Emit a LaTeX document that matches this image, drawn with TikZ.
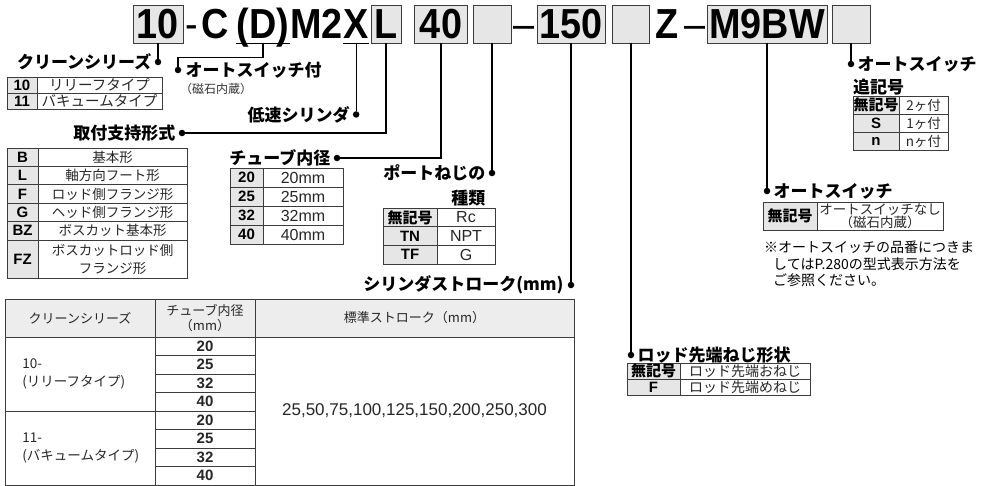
\documentclass[tikz,border=0pt]{standalone}
\usepackage{fontspec}
\setmainfont{Liberation Sans}
\newfontfamily\jp{Noto Sans CJK JP}
\newfontfamily\codefont[FakeStretch=0.9]{Liberation Sans}
\usetikzlibrary{positioning}
\definecolor{keygray}{RGB}{230,230,230}
\definecolor{rule}{RGB}{60,60,60}
\newcommand\mukigou{{\jp\bfseries 無記号}}
\tikzset{
  codebox/.style={draw=rule,line width=0.9pt,fill=keygray,inner xsep=0pt,inner ysep=2pt,
                  text height=31pt,text depth=3pt,font=\codefont\bfseries\fontsize{42}{42}\selectfont},
  codetxt/.style={codebox,draw=none,fill=none},
  headtxt/.style={inner sep=0pt,font=\jp\bfseries\fontsize{17}{20}\selectfont},
  subhead/.style={inner sep=0pt,text=black!80,font=\jp\fontsize{12}{15}\selectfont},
  tcell/.style={draw=rule,line width=0.8pt,inner sep=0pt,align=center,text=black!85,
                font=\jp\fontsize{14}{16}\selectfont},
  keycell/.style={tcell,fill=keygray,text=black,font=\bfseries\fontsize{15}{16}\selectfont},
  numcell/.style={tcell,font=\fontsize{16}{17}\selectfont},
  jdot/.style={circle,fill=black,inner sep=0pt,minimum size=6.5pt},
  wire/.style={line width=1.3pt},
}
\begin{document}
\begin{tikzpicture}[x=1pt,y=-1pt]
  \useasboundingbox (0,0) rectangle (981,485);
  \node[codebox,minimum width=50pt] (b10) at (158,24) {10};
  \node[codetxt] (hy1) at (192,24) {\mdseries-};
  \node[codetxt] (tC) at (215,24) {C};
  \node[codetxt] (tD) at (263,24) {(D)};
  \node[codetxt,right=0pt of tD] (tM) {M2};
  \node[codetxt,right=0pt of tM] (tX) {X};
  \node[codebox,minimum width=30pt] (bL) at (386,24) {L};
  \node[codebox,minimum width=53pt] (b40) at (441,24) {40};
  \node[codebox,minimum width=38pt] (bP) at (492,24) {};
  \node[codetxt] (hy2) at (524,24) {\mdseries–};
  \node[codebox,minimum width=68pt] (b150) at (571,24) {150};
  \node[codebox,minimum width=37pt] (bR) at (631,24) {};
  \node[codetxt] (tZ) at (667,24) {Z};
  \node[codetxt] (hy3) at (695,24) {\mdseries–};
  \node[codebox,minimum width=120pt] (bSW) at (767,24) {M9BW};
  \node[codebox,minimum width=38pt] (bN) at (851,24) {};
  \draw[wire] (tD.south west) -- (tD.south east);
  \draw[wire] (tX.south west) -- (tX.south east);

  \node[jdot] (d10) at (158,62) {};
  \node[headtxt,left=3pt of d10] (hSeries) {クリーンシリーズ};
  \draw[wire] (b10) -- (d10);
  \node[jdot] (dD) at (178,70) {};
  \node[headtxt,right=4pt of dD] (hSw) {オートスイッチ付};
  \node[subhead,anchor=west] (hSwMag) at (180,89) {（磁石内蔵）};
  \draw[wire] (tD.south) -- ++(0,14) -| (dD);
  \node[jdot] (dX) at ([yshift=-71pt]tX.south) {};
  \node[headtxt,left=3pt of dX] (hSlow) {低速シリンダ};
  \draw[wire] (tX.south) -- (dX);
  \node[jdot] (dL) at (182,133) {};
  \node[headtxt,left=3pt of dL] (hMount) {取付支持形式};
  \draw[wire] (bL) |- (dL);
  \node[jdot] (d40) at (337,158) {};
  \node[headtxt,left=3pt of d40] (hBore) {チューブ内径};
  \draw[wire] (b40) |- (d40);
  \node[jdot] (dP) at (492,173) {};
  \node[headtxt,left=3pt of dP] (hPort) {ポートねじの};
  \node[headtxt,anchor=east] (hPort2) at ([yshift=-25pt]hPort.east) {種類};
  \draw[wire] (bP) -- (dP);
  \node[jdot] (d150) at (571,285) {};
  \node[headtxt,left=4pt of d150] (hStroke) {シリンダストローク(mm)};
  \draw[wire] (b150) -- (d150);
  \node[jdot] (dR) at (631,355) {};
  \node[headtxt,right=3pt of dR] (hRod) {ロッド先端ねじ形状};
  \draw[wire] (bR) -- (dR);
  \node[jdot] (dSW) at (767,191) {};
  \node[headtxt,right=3pt of dSW] (hAuto) {オートスイッチ};
  \draw[wire] (bSW) -- (dSW);
  \node[jdot] (dN) at (851,64) {};
  \node[headtxt,right=3pt of dN] (hAdd) {オートスイッチ};
  \node[headtxt,anchor=west] (hAdd2) at (853,87) {追記号};
  \draw[wire] (bN) -- (dN);

  \foreach \k/\v [count=\i] in {10/リリーフタイプ,11/バキュームタイプ}{
    \node[keycell,minimum width=30pt,minimum height=16pt] (sk\i) at (22,{69+16*\i}) {\k};
    \node[tcell,minimum width=125pt,minimum height=16pt,font=\jp\fontsize{14.5}{16}\selectfont] (sv\i)
      at (99.5,{69+16*\i}) {\v};
  }
  \foreach \k/\v [count=\i] in {B/基本形,L/軸方向フート形,F/ロッド側フランジ形,G/ヘッド側フランジ形,BZ/ボスカット基本形}{
    \node[keycell,minimum width=31pt,minimum height=18.4pt] (mk\i) at (22.5,{138.8+18.4*\i}) {\k};
    \node[tcell,minimum width=149pt,minimum height=18.4pt,font=\jp\fontsize{13.5}{16}\selectfont] (mv\i)
      at (112.5,{138.8+18.4*\i}) {\v};
  }
  \node[keycell,minimum width=31pt,minimum height=38pt] (mk6) at (22.5,259) {FZ};
  \node[tcell,minimum width=149pt,minimum height=38pt,font=\jp\fontsize{13.5}{16}\selectfont] (mv6)
    at (112.5,259) {ボスカットロッド側\\[2pt]フランジ形};
  \foreach \k [count=\i] in {20,25,32,40}{
    \node[keycell,minimum width=33pt,minimum height=19pt] (tk\i) at (246.5,{158.5+19*\i}) {\k};
    \node[numcell,minimum width=80pt,minimum height=19pt] (tv\i) at (303,{158.5+19*\i}) {\k mm};
  }
  \foreach \k/\v [count=\i] in {\mukigou/Rc,TN/NPT,TF/G}{
    \node[keycell,minimum width=54pt,minimum height=18.7pt] (pk\i) at (410,{198.65+18.7*\i}) {\k};
    \node[numcell,minimum width=58pt,minimum height=18.7pt] (pv\i) at (466,{198.65+18.7*\i}) {\v};
  }
  \foreach \k/\v [count=\i] in {\mukigou/2ヶ付,S/1ヶ付,n/nヶ付}{
    \node[keycell,minimum width=46pt,minimum height=18pt] (nk\i) at (876,{87+18*\i}) {\k};
    \node[tcell,minimum width=49pt,minimum height=18pt,font=\jp\fontsize{13.5}{16}\selectfont] (nv\i)
      at (923.5,{87+18*\i}) {\v};
  }
  \node[keycell,minimum width=54pt,minimum height=28pt] (ak) at (790,216) {\mukigou};
  \node[tcell,minimum width=126pt,minimum height=28pt,font=\jp\fontsize{13.5}{13}\selectfont] (av) at (880,216)
    {オートスイッチなし\\（磁石内蔵）};
  \node[subhead,anchor=north west,align=left,text=black,font=\jp\fontsize{14}{16.5}\selectfont] (note) at (764,241)
    {※オートスイッチの品番につきま\\\hspace{9pt}してはP.280の型式表示方法を\\\hspace{9pt}ご参照ください。};
  \foreach \k/\v [count=\i] in {\mukigou/ロッド先端おねじ,F/ロッド先端めねじ}{
    \node[keycell,minimum width=53pt,minimum height=16pt] (rk\i) at (653.5,{355+16*\i}) {\k};
    \node[tcell,minimum width=130pt,minimum height=16pt] (rv\i) at (745,{355+16*\i}) {\v};
  }

  \node[tcell,fill=keygray!70,minimum width=150pt,minimum height=38pt,font=\jp\fontsize{13}{15}\selectfont] (hd1)
    at (80,318) {クリーンシリーズ};
  \node[tcell,fill=keygray!70,minimum width=100pt,minimum height=38pt,font=\jp\fontsize{13}{15}\selectfont] (hd2)
    at (205,318) {チューブ内径\\（mm）};
  \node[tcell,fill=keygray!70,minimum width=319pt,minimum height=38pt,font=\jp\fontsize{13}{15}\selectfont] (hd3)
    at (414.5,318) {標準ストローク（mm）};
  \node[tcell,minimum width=150pt,minimum height=74pt] (g10) at (80,374) {};
  \node[tcell,minimum width=150pt,minimum height=74pt] (g11) at (80,448) {};
  \node[tcell,draw=none,anchor=west,align=left,font=\jp\fontsize{13.5}{18}\selectfont] (g10t) at (22,374)
    {10-\\(リリーフタイプ)};
  \node[tcell,draw=none,anchor=west,align=left,font=\jp\fontsize{13.5}{18}\selectfont] (g11t) at (22,448)
    {11-\\(バキュームタイプ)};
  \foreach \n [count=\i] in {20,25,32,40,20,25,32,40}{
    \node[numcell,font=\bfseries\fontsize{15}{16}\selectfont,minimum width=100pt,minimum height=18.5pt] (bore\i)
      at (205,{327.75+18.5*\i}) {\n};
  }
  \node[numcell,minimum width=319pt,minimum height=148pt,font=\fontsize{17}{18}\selectfont] (strokes)
    at (414.5,411) {25,50,75,100,125,150,200,250,300};
\end{tikzpicture}
\end{document}
